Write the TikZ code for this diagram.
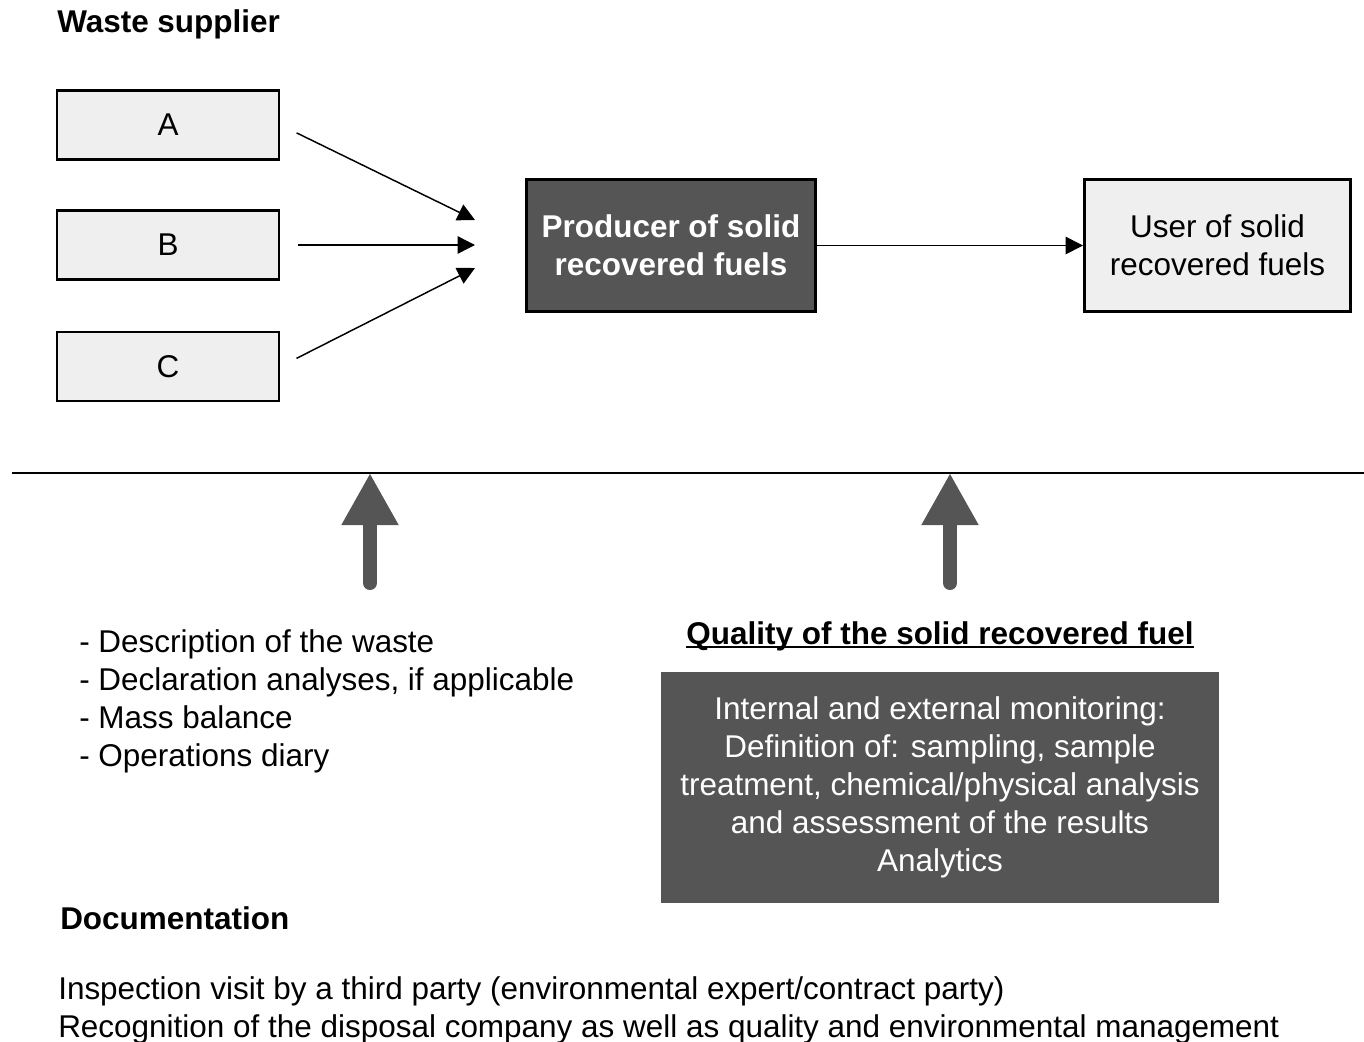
\documentclass[tikz,border=0pt]{standalone}
\usepackage{fontspec}
\setmainfont{Liberation Sans}
\usetikzlibrary{arrows.meta, positioning}

\definecolor{boxgray}{HTML}{EFEFEF}
\definecolor{fuelgray}{HTML}{555555}

\begin{document}
\begin{tikzpicture}[
        x=0.75pt,
        y=-0.75pt,
        >={Triangle[length=13pt,width=13pt]},
        every node/.style={font=\fontsize{23.6}{28.5}\selectfont, inner sep=0pt},
        bold/.style={font=\fontsize{23.6}{28.5}\selectfont\bfseries},
        supplier/.style={draw, line width=2.2pt, fill=boxgray, minimum width=166.5pt, minimum height=51.75pt},
        party/.style={draw, line width=2.2pt, minimum width=216.75pt, minimum height=99pt, align=center},
        flow/.style={->, line width=1.1pt},
        bigarrow/.style={-{Triangle[length=39pt,width=40pt]}, draw=fuelgray, line width=10.5pt, line cap=round}
    ]
    \useasboundingbox (0,0) rectangle (1364,1042);

    \node[bold, anchor=base west] (title) at (57,32) {Waste supplier};

    \node[supplier] (A) at (168,125) {A};
    \node[supplier] (B) at (168,245) {B};
    \node[supplier] (C) at (168,366.5) {C};

    \node[party, fill=fuelgray, text=white, font=\fontsize{23.6}{28.5}\selectfont\bfseries] (prod) at (671,245.5) {Producer of solid\\recovered fuels};
    \node[party, fill=boxgray, minimum width=199.5pt] (user) at (1217.5,245.5) {User of solid\\recovered fuels};

    \coordinate (inA) at (475,220);
    \coordinate (inB) at (475,245);
    \coordinate (inC) at (475,268);

    \draw[flow, shorten <=13.5pt] (A.east) -- (inA);
    \draw[flow, shorten <=13.5pt] (B.east) -- (inB);
    \draw[flow, shorten <=13.5pt] (C.east) -- (inC);
    \draw[flow] (prod) -- (user);

    \coordinate (ruleL) at (12,473);
    \coordinate (ruleR) at (1364,473);
    \draw[line width=1.5pt] (ruleL) -- (ruleR);

    \coordinate (docsfoot) at (370,583);
    \coordinate (qualfoot) at (950,583);
    \draw[bigarrow] (docsfoot) -- (docsfoot |- ruleL);
    \draw[bigarrow] (qualfoot) -- (qualfoot |- ruleL);

    \node[anchor=west, align=left] (docs) at (79,701) {- Description of the waste\\- Declaration analyses, if applicable\\- Mass balance\\- Operations diary};

    \node[bold, anchor=base] (qualtitle) at (940,644) {Quality of the solid recovered fuel};
    \draw[line width=1.5pt] ([yshift=-2.6pt]qualtitle.base west) -- ([yshift=-2.6pt]qualtitle.base east);

    \node[fill=fuelgray, text=white, align=center, minimum width=418.5pt, minimum height=173.25pt] (monitor) at (940,787) {Internal and external monitoring:\\Definition of: sampling, sample\\treatment, chemical/physical analysis\\and assessment of the results\\Analytics};

    \node[bold, anchor=base west] (doctitle) at (60,929) {Documentation};

    \node[anchor=west, align=left] (inspect) at (58,1010.5) {Inspection visit by a third party (environmental expert/contract party)\\Recognition of the disposal company as well as quality and environmental management};
\end{tikzpicture}
\end{document}
